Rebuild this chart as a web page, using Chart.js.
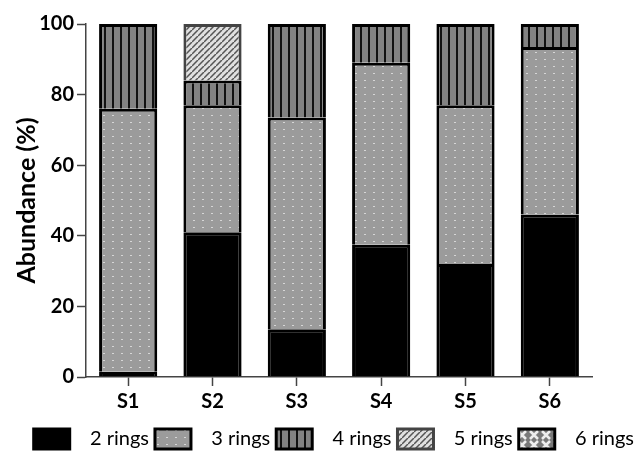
<!DOCTYPE html>
<html>
<head>
<meta charset="utf-8">
<script src="https://cdn.jsdelivr.net/npm/chart.js@4.4.0/dist/chart.umd.min.js"></script>
<style>
  html, body { margin: 0; padding: 0; background: #fff; }
  #wrap { width: 640px; height: 459px; }
</style>
</head>
<body>
<div id="wrap"><canvas id="myChart"></canvas></div>
<script>
// data
const samples = ['S1', 'S2', 'S3', 'S4', 'S5', 'S6'];
const rings2 = [1.5, 41, 13.5, 37.5, 32, 46];
const rings3 = [74.5, 36, 60, 51.5, 45, 47.5];
const rings4 = [24, 7, 26.5, 11, 23, 6.5];
const rings5 = [0, 16, 0, 0, 0, 0];
const rings6 = [0, 0, 0, 0, 0, 0];
const yTicks = [0, 20, 40, 60, 80, 100];

function makePattern(w, h, draw) {
  const c = document.createElement('canvas');
  c.width = w; c.height = h;
  const g = c.getContext('2d');
  draw(g, w, h);
  return g.createPattern(c, 'repeat');
}

// grey with light dots
const dots = makePattern(9, 7, (g, w, h) => {
  g.fillStyle = '#9b9b9b';
  g.fillRect(0, 0, w, h);
  g.fillStyle = '#d6d6d6';
  g.fillRect(4, 3, 2, 1);
});

// dark grey with vertical black lines
const vlines = makePattern(8, 8, (g, w, h) => {
  g.fillStyle = '#828282';
  g.fillRect(0, 0, w, h);
  g.fillStyle = '#111';
  g.fillRect(0, 0, 2, h);
});

// light grey with diagonal hatch
const diag = makePattern(6, 6, (g, w, h) => {
  g.fillStyle = '#e0e0e0';
  g.fillRect(0, 0, w, h);
  g.strokeStyle = '#555';
  g.lineWidth = 1.5;
  g.beginPath();
  g.moveTo(0, h); g.lineTo(w, 0);
  g.moveTo(-w, h); g.lineTo(0, 0);
  g.moveTo(w, 2 * h); g.lineTo(2 * w, h);
  g.stroke();
});

// grey with white crosses
const cross = makePattern(12, 10, (g, w, h) => {
  g.fillStyle = '#7a7a7a';
  g.fillRect(0, 0, w, h);
  g.strokeStyle = '#eee';
  g.lineWidth = 2.5;
  g.beginPath();
  g.moveTo(2, 1); g.lineTo(10, 9);
  g.moveTo(10, 1); g.lineTo(2, 9);
  g.stroke();
});

const font = 'Lato, "Open Sans", sans-serif';

const ctx = document.getElementById('myChart').getContext('2d');
const myChart = new Chart(ctx, {
  type: 'bar',
  data: {
    labels: samples,
    datasets: [
      { label: '2 rings', data: rings2, backgroundColor: '#000', borderColor: '#000', borderWidth: 3 },
      { label: '3 rings', data: rings3, backgroundColor: dots, borderColor: '#000', borderWidth: 3 },
      { label: '4 rings', data: rings4, backgroundColor: vlines, borderColor: '#000', borderWidth: 3 },
      { label: '5 rings', data: rings5, backgroundColor: diag, borderColor: '#444', borderWidth: 3 },
      { label: '6 rings', data: rings6, backgroundColor: cross, borderColor: '#000', borderWidth: 3 }
    ]
  },
  options: {
    responsive: true,
    maintainAspectRatio: false,
    animation: false,
    layout: { padding: { top: 24, right: 0, left: 0, bottom: 0 } },
    datasets: {
      bar: { barPercentage: 0.69, categoryPercentage: 1.0 }
    },
    plugins: {
      tooltip: { enabled: false },
      legend: {
        position: 'bottom',
        align: 'end',
        labels: {
          boxWidth: 36,
          boxHeight: 20,
          padding: 6,
          color: '#000',
          font: { family: font, size: 20 },
          generateLabels: (chart) => {
            const items = Chart.defaults.plugins.legend.labels.generateLabels(chart);
            items.forEach(it => { it.text = '  ' + it.text; });
            return items;
          }
        }
      }
    },
    scales: {
      x: {
        stacked: true,
        afterFit: (axis) => { axis.height = 46; },
        grid: { drawOnChartArea: false, offset: false, color: '#444', tickLength: 9, tickWidth: 1.5 },
        border: { color: '#444', width: 1.5 },
        ticks: { color: '#000', font: { family: font, size: 20, weight: 'bold' }, padding: 4 }
      },
      y: {
        stacked: true,
        min: 0,
        max: 100,
        afterBuildTicks: (axis) => { axis.ticks = yTicks.map(v => ({ value: v })); },
        afterFit: (axis) => { axis.width = 86; },
        grid: { drawOnChartArea: false, color: '#444', tickLength: 9, tickWidth: 1.5 },
        border: { color: '#444', width: 1.5 },
        ticks: { color: '#000', font: { family: font, size: 20, weight: 'bold' }, padding: 3 },
        title: {
          display: true,
          text: 'Abundance (%)',
          color: '#000',
          font: { family: font, size: 25, weight: 'bold' },
          padding: { top: 12, bottom: 6 }
        }
      },
      // empty right scale, only keeps the plot narrower than the legend
      yRight: {
        position: 'right',
        display: true,
        min: 0,
        max: 100,
        afterFit: (axis) => { axis.width = 48; },
        grid: { display: false, drawTicks: false },
        border: { display: false },
        ticks: { display: false }
      }
    }
  }
});
</script>
</body>
</html>
